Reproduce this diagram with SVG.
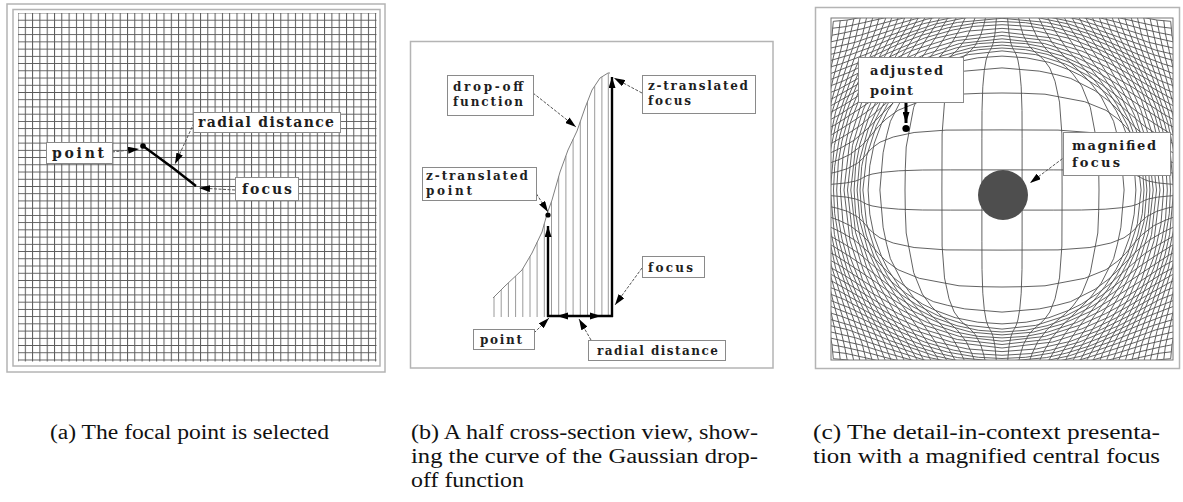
<svg xmlns="http://www.w3.org/2000/svg" xmlns:xlink="http://www.w3.org/1999/xlink" width="1183" height="502" viewBox="0 0 1183 502">
<style>
.frame{fill:none;stroke:#b4b4b4;stroke-width:1.5}
.box{fill:#fff;stroke:#8a8a8a;stroke-width:1}
.lbl{font-family:"DejaVu Serif",serif;font-weight:bold;fill:#1e1e1e}
.la{font-size:14px}
.lb{font-size:12px}
.lc{font-size:13px}
.cap{font-family:"Liberation Serif","Times New Roman",serif;font-size:20px;fill:#111}
.lead{fill:none;stroke:#555;stroke-width:1;stroke-dasharray:3 1.5}
.thick{fill:none;stroke:#000;stroke-width:2.4}
.hatch{fill:none;stroke:#9a9a9a;stroke-width:1}
.cgrid polyline{fill:none;stroke:#505050;stroke-width:0.9}
</style>
<defs>
<marker id="ah" viewBox="0 0 11 7" refX="11" refY="3.5" markerWidth="11" markerHeight="7" markerUnits="userSpaceOnUse" orient="auto"><path d="M0,0L11,3.5L0,7z" fill="#000"/></marker>
<pattern id="gridA" x="17.5" y="12.5" width="7.3" height="7.23" patternUnits="userSpaceOnUse"><path d="M0.5,0V7.23M0,0.5H7.3" stroke="#585858" stroke-width="1" fill="none"/></pattern>
<clipPath id="clipC"><rect x="831" y="18" width="342" height="342"/></clipPath>
<g id="cq" class="cgrid">
<polyline points="20.1,0 20.1,18.8 20.1,51.2 20,79.5 19.2,103.2 17.7,119.7 15.9,130 14.2,135.3 12.7,138.4 11.4,140.5 10.4,142.6 8.9,146.7 7.1,155.8 6.1,165.9 5,178.9"/>
<polyline points="60.1,0 59.9,56 57.5,87.9 53,108.8 47.8,122 42.6,129.2 38.1,133.7 34.3,136.8 31.3,139.5 26.8,144.5 21.4,154.5 18.2,165 15.1,178.3"/>
<polyline points="97,0 96.7,21.2 95.8,43 88.3,82.7 79.7,104 70.9,116 63.4,123.7 57.2,128.9 52.2,133.1 44.7,140 35.6,151.9 30.3,163.2 25.1,177.2"/>
<polyline points="122.1,0 118.9,37.2 115.4,54.2 111.6,68.7 99.3,93 88.8,107 80.1,116.1 73.1,122.9 62.6,133 49.8,147.8 42.4,160.5 35.2,175.5"/>
<polyline points="133.9,0 132.2,24.2 127.7,46.9 120.5,66.3 114.2,79.3 102.9,96.4 94,107.8 80.5,123 64.1,142.2 54.5,156.8 45.2,173.2"/>
<polyline points="139.1,0 135.4,33.7 125.8,63.7 114.8,85.2 105.8,99.1 98.4,109.2 86.9,124.1 78.3,134.9 66.7,152 55.3,170.2 48.2,185.9"/>
<polyline points="142,0 140.3,23.6 135.7,45.1 126.9,69.5 116.3,90 102.7,111.4 92.5,125.6 78.8,146.1 65.3,166.6 56.9,183.4"/>
<polyline points="144.9,0 142.1,31.2 134.1,60.1 119.9,91.9 106.8,113.7 90.9,138.9 75.4,162.3 65.7,180.4"/>
<polyline points="147.9,0 146.4,23.6 142.1,45.8 132.5,74.7 121,98.5 103,130.2 85.4,157.3 74.5,177"/>
<polyline points="151.2,0 146.5,42.3 135.2,77.8 123.7,103.4 115.1,119.6 95.5,151.4 83.2,173"/>
<polyline points="154.5,0 149.5,44.7 138.9,79.8 127.2,106.6 115.4,127.9 105.5,144.6 92,168.5 86,184.2"/>
<polyline points="158,0 152,50.7 139.4,90.2 127.9,114.2 115.6,136.7 100.7,163.4 93.3,182.6"/>
<polyline points="161.6,0 158.9,34.8 151.5,67.9 139.5,99.3 125.6,127.5 109.5,157.7 100.5,180.8"/>
<polyline points="165.3,0 163.6,28.2 160.1,48.7 152.1,77.2 135.7,116.7 118.3,151.3 107.5,179.2"/>
<polyline points="168.5,0 167.3,23.7 162.3,53.7 154.7,80.4 145.7,103.9 127,144 115.9,172.7 114.6,177.9"/>
<polyline points="171.7,0 167.6,44.4 163,64.8 155.8,88.1 135.8,135.7 126,161.4 121.6,176.5"/>
<polyline points="174.9,0 172.4,35.8 165.8,67.3 150.5,112.4 144.5,126.4 135.3,151.6 128.4,175.1"/>
<polyline points="178,0 175.9,33.2 166.4,78.2 153.3,115.6 142.9,145.4 139.8,153.9 135.1,173.7"/>
<polyline points="181.2,0 176.1,52.2 170.6,75.8 162.1,103 151.8,134.9 147.8,146.3 141.7,172.3"/>
<polyline points="184.4,0 178.6,56.5 170.8,87.7 163.2,114.7 154.9,141.5 150.9,159 148.2,171"/>
<polyline points="187.5,0 179.6,67.9 168.5,112.6 161.2,140 157.2,157.6 154.8,169.9"/>
<polyline points="181.1,80.8 173.7,110.6 167.3,138.6 163.4,156.2 161.8,169.3"/>
<polyline points="179,109 173.3,137.1 169.9,155.2 168.7,168.7"/>
</g>
<g id="cv">
<use xlink:href="#cq"/>
<use xlink:href="#cq" transform="scale(1,-1)"/>
<use xlink:href="#cq" transform="scale(-1,1)"/>
<use xlink:href="#cq" transform="scale(-1,-1)"/>
</g>
</defs>
<rect width="1183" height="502" fill="#fff"/>

<!-- Panel (a) -->
<g id="panel-a">
<rect class="frame" x="7" y="4" width="378" height="368"/>
<rect class="frame" x="13" y="9.5" width="367" height="356.5" stroke="#c8c8c8"/>
<rect x="18" y="13" width="358.5" height="348.5" fill="url(#gridA)"/>
</g>

<!-- Panel (b) -->
<g id="panel-b">
<rect class="frame" x="410.5" y="41.5" width="362.5" height="326.5"/>
<path class="hatch" d="M494,297V317M501.2,290V317M508.4,282.8V317M515.6,276V317M522.8,268.6V317M530,256.4V317M537.1,242.3V317M544.3,223.7V317M551.5,201.4V316M558.7,176.6V316M565.9,155.8V316M573.1,139.2V316M580.3,121.5V316M587.5,101.6V316M594.7,86V316M601.9,76.8V316M608.3,73.5V316"/>
<polyline id="dropoff-curve" points="493,298 505,286 522,270 532,253 542,232 547,214 552,200 560,172 568,150 577,131 585,108 592,90 600,78 608,73 610,73" fill="none" stroke="#808080" stroke-width="1"/>
</g>

<!-- Panel (c) -->
<g id="panel-c">
<rect class="frame" x="815.5" y="7.5" width="364" height="361"/>
<g clip-path="url(#clipC)">
<g transform="translate(1002,190)">
<use xlink:href="#cv"/>
<use xlink:href="#cv" transform="matrix(0,1,1,0,0,0)"/>
</g>
</g>
<rect x="831" y="18" width="342" height="342" fill="none" stroke="#777" stroke-width="1"/>
<circle id="magnified-focus-dot" cx="1003" cy="195" r="25" fill="#4e4e4e"/>
</g>

<!-- Connectors -->
<g id="connectors">
<line class="lead" x1="112" y1="152" x2="139" y2="149" marker-end="url(#ah)"/>
<polyline class="thick" points="143,146 173,168 196,186"/>
<circle cx="143" cy="146" r="2.8" fill="#000"/>
<line class="lead" x1="235" y1="190" x2="199" y2="188" marker-end="url(#ah)"/>
<line class="lead" x1="194" y1="123" x2="175" y2="164" marker-end="url(#ah)"/>

<line class="thick" x1="548" y1="317" x2="548" y2="226" marker-end="url(#ah)"/>
<line class="thick" x1="612" y1="317" x2="612" y2="77" marker-end="url(#ah)"/>
<line class="thick" x1="547" y1="316" x2="613" y2="316"/>
<path d="M557,316L568,312.5L568,319.5z M601,316L590,312.5L590,319.5z" fill="#000"/>
<circle cx="548" cy="215" r="2.6" fill="#000"/>
<line class="lead" x1="533" y1="93" x2="576" y2="127" marker-end="url(#ah)"/>
<line class="lead" x1="642" y1="93" x2="614" y2="78" marker-end="url(#ah)"/>
<line class="lead" x1="534" y1="190" x2="548" y2="212" marker-end="url(#ah)"/>
<line class="lead" x1="642" y1="268" x2="615" y2="305" marker-end="url(#ah)"/>
<line class="lead" x1="534" y1="333" x2="549" y2="318" marker-end="url(#ah)"/>
<line class="lead" x1="591" y1="340" x2="579" y2="319" marker-end="url(#ah)"/>

<line x1="906" y1="103" x2="906" y2="123" stroke="#000" stroke-width="3" marker-end="url(#ah)"/>
<circle cx="906" cy="128.5" r="3.6" fill="#000"/>
<line class="lead" x1="1066" y1="156" x2="1030" y2="183" marker-end="url(#ah)"/>
</g>

<!-- Labels (a) -->
<g id="label-a-point"><rect class="box" x="46.5" y="142.5" width="66" height="21"/><text class="lbl la" x="52" y="158" textLength="52">point</text></g>
<g id="label-a-radial"><rect class="box" x="193.5" y="112.5" width="147" height="20"/><text class="lbl la" x="198" y="127" textLength="136">radial distance</text></g>
<g id="label-a-focus"><rect class="box" x="235.5" y="177.5" width="63" height="23"/><text class="lbl la" x="242" y="194" textLength="50">focus</text></g>

<!-- Labels (b) -->
<g id="label-b-dropoff"><rect class="box" x="447.5" y="75.5" width="86" height="40"/><text class="lbl lb" x="453" y="91" textLength="70">drop-off</text><text class="lbl lb" x="453" y="106" textLength="70">function</text></g>
<g id="label-b-zfocus"><rect class="box" x="642.5" y="75.5" width="113" height="38"/><text class="lbl lb" x="648" y="90" textLength="100">z-translated</text><text class="lbl lb" x="648" y="105" textLength="43">focus</text></g>
<g id="label-b-zpoint"><rect class="box" x="422.5" y="167.5" width="114" height="33"/><text class="lbl lb" x="426" y="180" textLength="102">z-translated</text><text class="lbl lb" x="426" y="195" textLength="46">point</text></g>
<g id="label-b-focus"><rect class="box" x="642.5" y="256.5" width="62" height="21"/><text class="lbl lb" x="648" y="272" textLength="45">focus</text></g>
<g id="label-b-point"><rect class="box" x="473.5" y="329.5" width="61" height="20"/><text class="lbl lb" x="480" y="344" textLength="42">point</text></g>
<g id="label-b-radial"><rect class="box" x="588.5" y="340.5" width="137" height="20"/><text class="lbl lb" x="597" y="355" textLength="121">radial distance</text></g>

<!-- Labels (c) -->
<g id="label-c-adjusted"><rect class="box" x="858.5" y="57.5" width="105" height="45"/><text class="lbl lc" x="870" y="75" textLength="73">adjusted</text><text class="lbl lc" x="870" y="95" textLength="43">point</text></g>
<g id="label-c-magnified"><rect class="box" x="1063.5" y="132.5" width="107" height="43"/><text class="lbl lc" x="1072" y="150" textLength="84">magnified</text><text class="lbl lc" x="1072" y="167" textLength="48">focus</text></g>

<!-- Captions -->
<g id="captions">
<text class="cap" x="50" y="439" textLength="279" lengthAdjust="spacingAndGlyphs">(a) The focal point is selected</text>
<text class="cap" x="411" y="439" textLength="347" lengthAdjust="spacingAndGlyphs">(b) A half cross-section view, show-</text>
<text class="cap" x="411" y="463" textLength="347" lengthAdjust="spacingAndGlyphs">ing the curve of the Gaussian drop-</text>
<text class="cap" x="411" y="487" textLength="113" lengthAdjust="spacingAndGlyphs">off function</text>
<text class="cap" x="813" y="439" textLength="347" lengthAdjust="spacingAndGlyphs">(c) The detail-in-context presenta-</text>
<text class="cap" x="813" y="463" textLength="347" lengthAdjust="spacingAndGlyphs">tion with a magnified central focus</text>
</g>
</svg>
